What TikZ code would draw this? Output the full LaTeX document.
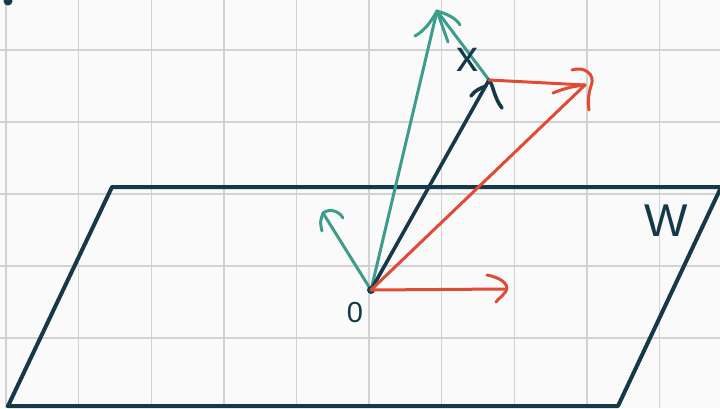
\documentclass[tikz,border=0pt]{standalone}
\usepackage{fontspec}
\setmainfont{Liberation Sans}
\definecolor{navy}{HTML}{16394A}
\definecolor{tealc}{HTML}{3E9C8C}
\definecolor{redc}{HTML}{E04B36}
\definecolor{gridc}{HTML}{D2D2D2}
\definecolor{bgc}{HTML}{FAFAFA}
\tikzset{
  gridline/.style={draw=gridc, line width=1.4pt},
  plane/.style={draw=navy, line width=4pt, line join=round, line cap=round},
  navyvec/.style={draw=navy, line width=3.6pt, line cap=round, line join=round},
  tealvec/.style={draw=tealc, line width=3pt, line cap=round, line join=round},
  redvec/.style={draw=redc, line width=3pt, line cap=round, line join=round},
  lbl/.style={text=navy, inner sep=0pt},
}
\begin{document}
\begin{tikzpicture}[x=1pt, y=-1pt]
\useasboundingbox (0,0) rectangle (720,408);
\fill[bgc] (0,0) rectangle (720,408);
% grid
\foreach \i in {0,...,9} {
  \draw[gridline] ({6+72.6*\i},0) -- ({6+72.6*\i},408);
}
\foreach \j in {0,...,4} {
  \draw[gridline] (0,{50+72*\j}) -- (720,{50+72*\j});
}
% stray dot at top left
\fill[navy] (8,1) circle (4.5);
% plane W
\coordinate (P1) at (8,406);
\coordinate (P2) at (112,187);
\coordinate (P3) at (724,187);
\coordinate (P4) at (618,406);
\draw[plane] (P1) -- (P2) -- (P3);
\draw[plane] (P1) -- (P4) -- (724,181);
\node[lbl, font=\fontsize{46}{46}\selectfont] (W) at (666,221) {W};
% points
\coordinate (O) at (371,290);
\coordinate (X) at (489,80);
\coordinate (T) at (437,11);
\coordinate (S) at (323,213);
\coordinate (R1) at (504,289);
\coordinate (R2) at (585,85);
% teal vectors
\draw[tealvec] (O) -- (T);
\draw[tealvec] (T) -- (X);
\draw[tealvec] (415,36) .. controls (424,31) and (431,22) .. (T) .. controls (447,14) and (456,18) .. (460,25);
\draw[tealvec] (T) -- (448,42);
\draw[tealvec] (O) -- (S);
\draw[tealvec] (S) .. controls (330,208) and (339,211) .. (343,218);
\draw[tealvec] (S) .. controls (320,222) .. (322,231);
% navy vector x
\draw[navyvec] (O) -- (X);
\draw[navyvec] (471,96) .. controls (475,90) and (481,88) .. (486,86);
\draw[navyvec] (X) .. controls (493,84) and (494,98) .. (502,108);
\fill[navy] (O) circle (4);
% red vectors
\draw[redvec] (O) -- (R1);
\draw[redvec] (487,275) .. controls (498,277) and (510,283) .. (506,291) .. controls (503,296) and (498,299) .. (496,302);
\draw[redvec] (O) -- (R2);
\draw[redvec] (X) -- (R2);
\draw[redvec] (553,93) .. controls (565,88) and (575,86) .. (R2);
\draw[redvec] (572,70) .. controls (584,66) and (596,74) .. (591,86) .. controls (588,95) and (588,102) .. (589,110);
% labels
\node[lbl, font=\fontsize{44}{44}\selectfont] (xl) at (467,60) {x};
\node[lbl, font=\fontsize{29}{29}\selectfont] (zero) at (355,313) {0};
\end{tikzpicture}
\end{document}
